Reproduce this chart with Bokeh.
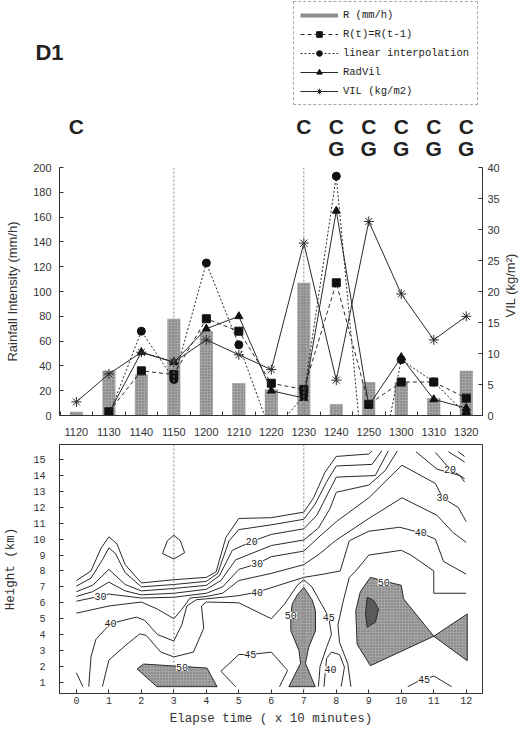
import numpy as np
from bokeh.plotting import figure
from bokeh.models import (Range1d, LinearAxis, FixedTicker, Span, LabelSet,
                          ColumnDataSource, Legend, LegendItem)
from bokeh.layouts import column, row
from bokeh.embed import file_html
from bokeh.resources import INLINE
from bokeh.core.properties import value

nan = float("nan")

# ---- time series (upper panel) ----
times = ["1120", "1130", "1140", "1150", "1200", "1210", "1220",
         "1230", "1240", "1250", "1300", "1310", "1320"]
rain = [3, 36, 33, 78, 68, 26, 21, 107, 9, 27, 27, 14, 36]            # R (mm/h)
persist = [nan, 3, 36, 33, 78, 68, 26, 21, 107, 9, 27, 27, 14]         # R(t)=R(t-1)
linear = [nan, 0, 68, 29, 123, 57, -15, 16, 193, -89, 45, 27, 1]       # linear interpolation
radvil = [nan, 2, 51, 43, 70, 80, 20, 14, 165, 8, 47, 13, 6]           # RadVil
vil = [2.2, 6.7, 10.2, 8.6, 12.2, 9.8, 7.4, 27.8, 5.7, 31.3, 19.6, 12.2, 16.0]  # VIL (kg/m2)

c_times = ["1120", "1230", "1240", "1250", "1300", "1310", "1320"]
g_times = ["1240", "1250", "1300", "1310", "1320"]
marked_times = ["1150", "1230"]

# ---- reflectivity contours (lower panel): (elapsed time, height km) ----
dbz10 = [[(0, 7.4), (0.45, 8.0), (0.75, 9.4), (1.0, 10.15), (1.25, 9.7), (1.5, 8.4), (2.0, 7.25),
          (3.0, 7.45), (4.0, 7.6), (4.3, 7.95), (4.6, 10.1), (5.0, 11.3), (6.0, 11.35), (7.0, 11.7),
          (7.3, 12.6), (7.65, 14.2), (8.0, 15.2), (9.0, 15.35), (9.1, 15.55)],
         [(3.0, 10.25), (3.2, 9.9), (3.33, 9.15), (3.0, 8.75), (2.65, 9.1), (2.8, 9.9), (3.0, 10.25)],
         [(11.75, 15.5), (11.95, 15.2)]]
dbz15 = [[(0, 7.05), (0.45, 7.55), (0.8, 8.7), (1.0, 9.45), (1.2, 9.1), (1.5, 7.9), (2.0, 7.0),
          (3.0, 7.15), (4.0, 7.35), (4.35, 7.85), (4.7, 9.9), (5.0, 10.6), (6.0, 10.9), (7.0, 11.25),
          (7.35, 12.2), (7.7, 13.6), (8.0, 14.6), (9.1, 14.7), (9.4, 15.55)],
         [(11.45, 15.5), (11.95, 14.85)]]
dbz20 = [[(0, 6.7), (0.5, 7.1), (1.0, 8.1), (1.5, 7.15), (2.0, 6.75), (3.0, 6.9), (4.0, 7.1),
          (4.4, 7.7), (4.8, 9.3), (5.4, 9.86), (6.0, 10.3), (7.0, 10.65), (7.4, 11.5), (7.75, 12.9),
          (8.0, 13.9), (9.2, 14.0), (9.6, 15.55)],
         [(11.05, 15.45), (11.5, 14.4), (11.95, 13.8)]]
dbz25 = [[(0, 6.4), (0.5, 6.7), (1.0, 7.3), (1.5, 6.75), (2.0, 6.5), (3.0, 6.6), (4.0, 6.85),
          (4.45, 7.4), (4.9, 8.7), (6.0, 9.6), (7.0, 9.95), (7.45, 10.7), (7.8, 11.9), (8.0, 12.95),
          (9.0, 13.4), (9.5, 14.3), (9.88, 15.55)],
         [(10.45, 15.5), (11.1, 14.4), (11.8, 14.0), (11.95, 13.6)]]
dbz30 = [[(0, 6.1), (0.74, 6.42), (1.0, 6.55), (2.0, 6.3), (3.0, 6.35), (4.0, 6.6), (4.5, 7.0),
          (5.0, 8.1), (5.56, 8.45), (6.0, 8.9), (7.0, 9.25), (7.5, 10.2), (8.0, 11.1), (9.0, 12.6),
          (10.02, 14.65), (11.05, 13.5), (11.27, 12.6), (11.75, 12.0), (12.0, 11.1)]]
dbz35 = [[(0, 5.35), (1.0, 5.8), (2.0, 6.05), (2.5, 5.6), (3.0, 5.0), (3.25, 5.6), (3.5, 6.3),
          (4.0, 6.4), (4.5, 6.6), (5.0, 7.4), (6.0, 7.85), (7.0, 8.4), (7.5, 9.1), (7.97, 9.9),
          (9.0, 11.3), (10.02, 12.6), (11.1, 11.5), (11.6, 10.4), (12.0, 9.8)]]
dbz40 = [[(0.38, 0.73), (0.45, 2.6), (0.6, 3.7), (1.05, 4.7), (1.85, 5.1), (2.1, 4.9), (2.5, 4.0),
          (3.0, 3.6), (3.25, 4.65), (3.4, 5.8), (3.7, 6.2), (4.0, 6.25), (5.0, 6.45), (5.56, 6.67),
          (6.0, 6.95), (7.0, 7.6), (7.6, 7.8), (8.12, 8.0), (8.4, 9.9), (9.0, 10.5), (9.95, 10.75),
          (10.6, 10.4), (11.05, 10.0), (11.3, 8.6), (12.0, 7.8)],
         [(0.0, 1.6), (0.2, 0.73)],
         [(7.62, 0.73), (7.7, 2.5), (7.85, 2.9), (8.1, 2.75), (8.25, 1.95), (8.15, 0.73)]]
dbz45 = [[(0.8, 0.73), (1.0, 2.4), (1.5, 3.3), (1.95, 4.05), (2.15, 3.95), (2.6, 2.9), (3.0, 2.6),
          (3.6, 2.9), (3.92, 4.4), (3.85, 5.8), (4.0, 6.05), (5.0, 6.0), (6.0, 5.0), (6.4, 5.9),
          (6.8, 7.1), (7.0, 7.45), (7.25, 7.0), (7.55, 5.9), (7.77, 5.1), (7.85, 4.0), (7.7, 3.2),
          (7.5, 2.0), (7.45, 0.73)],
         [(8.45, 0.73), (8.35, 2.2), (8.1, 3.5), (8.05, 4.6), (8.2, 6.0), (8.4, 7.6), (8.6, 8.0),
          (9.0, 9.0), (10.0, 9.3), (10.3, 9.0), (11.0, 8.0), (11.0, 6.6), (12.0, 6.6)],
         [(4.9, 0.73), (4.45, 1.7), (5.0, 2.75), (5.35, 2.75), (6.0, 2.9), (6.5, 1.75), (6.25, 0.73)],
         [(10.2, 0.73), (10.5, 1.05), (10.7, 1.15), (11.0, 1.4), (11.55, 0.73)]]
contour_lines = [dbz10, dbz15, dbz20, dbz25, dbz30, dbz35, dbz40, dbz45]

# cells of 50 dBZ and above, and the 55 dBZ core
dbz50_cells = [[(1.87, 1.84), (2.07, 2.15), (4.02, 1.9), (4.33, 0.73), (2.48, 0.73)],
               [(7.0, 6.98), (7.25, 6.2), (7.36, 5.5), (7.36, 4.25), (7.15, 3.2), (7.05, 2.2),
                (7.35, 0.73), (6.54, 0.73), (6.9, 2.2), (6.85, 3.0), (6.6, 4.25), (6.6, 5.2),
                (6.64, 5.9), (6.8, 6.5)],
               [(9.05, 7.6), (9.5, 7.35), (10.0, 7.1), (10.07, 6.25), (11.0, 3.9), (9.05, 2.05),
                (8.64, 3.4), (8.6, 5.5), (8.74, 6.7)],
               [(11.0, 3.9), (12.03, 5.3), (12.03, 2.36)]]
dbz55_core = [(8.95, 6.35), (9.15, 6.15), (9.3, 5.6), (9.2, 4.78), (8.95, 4.46), (8.9, 5.3)]

label_t = [0.74, 1.05, 5.4, 5.56, 5.56, 5.35, 3.25, 6.6, 7.77, 7.82, 9.46, 10.7, 11.5, 11.27, 10.6]
label_h = [6.42, 4.7, 9.86, 8.45, 6.67, 2.75, 1.95, 5.2, 5.1, 1.8, 7.3, 1.15, 14.4, 12.6, 10.4]
label_txt = ["30", "40", "20", "30", "40", "45", "50", "50", "45", "40", "50", "45", "20", "30", "40"]

INK = "#2a2a2a"
SANS = "Liberation Sans"
MONO = "Liberation Mono"
idx = {t: i for i, t in enumerate(times)}
x = np.arange(len(times))

# shared horizontal geometry (pixels); plot frames line up in the column
LEFT, FRAME_W, RIGHT = 59, 423, 43
X0, X1 = -0.52, 12.5

# ================= header: panel tag, storm type marks, legend =================
HEAD_H = 160
head = figure(frame_width=FRAME_W, frame_height=HEAD_H, min_border_left=LEFT,
              min_border_right=RIGHT, min_border_top=0, min_border_bottom=0, x_axis_type=None,
              x_range=Range1d(X0, X1), y_range=Range1d(0, HEAD_H),
              output_backend="svg", toolbar_location=None)
head.outline_line_color = None
head.grid.visible = False

# panel tag "D1" carried by the header's left axis
tag = head.yaxis[0]
tag.ticker = FixedTicker(ticks=[HEAD_H - 52])
tag.major_label_overrides = {HEAD_H - 52: "D1"}
tag.axis_line_color = None
tag.major_tick_line_color = None
tag.minor_tick_line_color = None
tag.major_label_standoff = -10
tag.major_label_text_font = SANS
tag.major_label_text_font_size = "22px"
tag.major_label_text_font_style = "bold"
tag.major_label_text_color = "#222222"

head.text(x=[idx[t] for t in c_times], y=[HEAD_H - 126] * len(c_times), text=["C"] * len(c_times),
          text_align="center", text_baseline="middle", text_font=value(SANS),
          text_font_size=value("21px"), text_font_style="bold", text_color="#222222")
head.text(x=[idx[t] for t in g_times], y=[HEAD_H - 148] * len(g_times), text=["G"] * len(g_times),
          text_align="center", text_baseline="middle", text_font=value(SANS),
          text_font_size=value("21px"), text_font_style="bold", text_color="#222222")

# legend keys, styled like the series of the upper panel
k_bar = head.line([nan], [nan], line_color="#8e8e8e", line_width=4)
k_per_l = head.line([nan], [nan], line_color=INK, line_width=1, line_dash="4 3")
k_per_m = head.scatter([nan], [nan], marker="square", size=8, color="#111111")
k_lin_l = head.line([nan], [nan], line_color=INK, line_width=1, line_dash="2 2")
k_lin_m = head.scatter([nan], [nan], marker="circle", size=8, color="#111111")
k_rad_l = head.line([nan], [nan], line_color=INK, line_width=1)
k_rad_m = head.scatter([nan], [nan], marker="triangle", size=8, color="#111111")
k_vil_l = head.line([nan], [nan], line_color=INK, line_width=1)
k_vil_m = head.scatter([nan], [nan], marker="asterisk", size=10, line_color=INK, line_width=1)

legend = Legend(items=[LegendItem(label="R (mm/h)", renderers=[k_bar]),
                       LegendItem(label="R(t)=R(t-1)", renderers=[k_per_l, k_per_m]),
                       LegendItem(label="linear interpolation", renderers=[k_lin_l, k_lin_m]),
                       LegendItem(label="RadVil", renderers=[k_rad_l, k_rad_m]),
                       LegendItem(label="VIL (kg/m2)", renderers=[k_vil_l, k_vil_m])],
                location=(293 - LEFT, HEAD_H - 105), orientation="vertical",
                glyph_width=38, glyph_height=14, label_height=14, label_width=128,
                label_standoff=5, spacing=5, padding=6, margin=0,
                label_text_font=MONO, label_text_font_size="10.5px", label_text_color="#222222",
                border_line_color="#555555", border_line_dash="2 2", border_line_width=1,
                background_fill_color="white", background_fill_alpha=1.0)
head.add_layout(legend)

# ================= upper panel =================
TOP_PAD, TOP_FRAME_H, TOP_BOTTOM = 7, 248, 25
STRIP_W = 25
top = figure(frame_width=FRAME_W, frame_height=TOP_FRAME_H, min_border_left=LEFT,
             min_border_right=RIGHT - STRIP_W, min_border_top=TOP_PAD, min_border_bottom=TOP_BOTTOM,
             x_range=Range1d(X0, X1), y_range=Range1d(0, 200),
             output_backend="svg", toolbar_location=None)
top.outline_line_color = None
top.grid.visible = False
top.extra_y_ranges = {"vil": Range1d(0, 40)}

top.vbar(x=x, top=rain, width=0.4, fill_color="#a4a4a4", line_color=None,
         hatch_pattern="dot", hatch_color="#6c6c6c", hatch_scale=3)

for t in marked_times:
    top.add_layout(Span(location=idx[t], dimension="height", line_color="#808080",
                        line_dash="2 2", line_width=1))

top.line(x, persist, line_color=INK, line_width=1, line_dash="4 3")
top.scatter(x, persist, marker="square", size=8, color="#111111")
top.line(x, linear, line_color=INK, line_width=1, line_dash="2 2")
top.scatter(x, linear, marker="circle", size=8, color="#111111")
top.line(x, radvil, line_color=INK, line_width=1)
top.scatter(x, radvil, marker="triangle", size=8, color="#111111")
top.line(x, vil, line_color=INK, line_width=1, y_range_name="vil")
top.scatter(x, vil, marker="asterisk", size=10, line_color=INK, line_width=1, y_range_name="vil")

yl = top.yaxis[0]
yl.ticker = FixedTicker(ticks=list(range(0, 201, 20)))
yl.axis_label = "Rainfall Intensity (mm/h)"
xb = top.xaxis[0]
xb.ticker = FixedTicker(ticks=list(x), minor_ticks=list(np.arange(-0.5, 12.6, 1.0)))
xb.major_label_overrides = {int(i): t for i, t in zip(x, times)}
xb.major_tick_line_color = None
xb.minor_tick_in = 4
xb.minor_tick_out = 0

yr = LinearAxis(y_range_name="vil", ticker=FixedTicker(ticks=list(range(0, 41, 5))))
top.add_layout(yr, "right")

for ax in (yl, yr, xb):
    ax.axis_line_color = "#333333"
    ax.major_label_text_font = SANS
    ax.major_label_text_font_size = "11px"
    ax.major_label_text_color = "#333333"
    ax.axis_label_text_font = SANS
    ax.axis_label_text_font_size = "13px"
    ax.axis_label_text_font_style = "normal"
    ax.axis_label_text_color = "#333333"
for ax in (yl, yr):
    ax.major_tick_in = 4
    ax.major_tick_out = 0
    ax.major_tick_line_color = "#333333"
    ax.minor_tick_line_color = None
yl.major_label_standoff = 8
yl.axis_label_standoff = 10
yr.major_label_standoff = 5
xb.major_label_standoff = 6
xb.minor_tick_line_color = "#333333"

# strip on the right carrying the VIL axis title, read bottom to top
TOP_H = TOP_PAD + TOP_FRAME_H + TOP_BOTTOM
strip = figure(width=STRIP_W, height=TOP_H, min_border=0, x_axis_type=None, y_axis_type=None,
               x_range=Range1d(0, STRIP_W), y_range=Range1d(0, 200),
               output_backend="svg", toolbar_location=None)
strip.outline_line_color = None
strip.grid.visible = False
strip.text(x=[8], y=[105], text=["VIL (kg/m²)"], angle=np.pi / 2,
           text_align="center", text_baseline="middle", text_font=value(SANS),
           text_font_size=value("13px"), text_color="#333333")

# ================= lower panel =================
bot = figure(frame_width=FRAME_W, frame_height=249, min_border_left=LEFT, min_border_right=RIGHT,
             min_border_top=4, min_border_bottom=36,
             x_range=Range1d(X0, X1), y_range=Range1d(0.3, 15.95),
             output_backend="svg", toolbar_location=None)
bot.grid.visible = False
bot.outline_line_color = "#333333"
bot.outline_line_width = 1

bot.patches([[p[0] for p in c] for c in dbz50_cells], [[p[1] for p in c] for c in dbz50_cells],
            fill_color="#a4a4a4", hatch_pattern="dot", hatch_color="#6c6c6c", hatch_scale=3,
            line_color=INK, line_width=1)
bot.patch([p[0] for p in dbz55_core], [p[1] for p in dbz55_core],
          fill_color="#5a5a5a", line_color=INK, line_width=1)

xs, ys = [], []
for level in contour_lines:
    for seg in level:
        xs.append([p[0] for p in seg])
        ys.append([p[1] for p in seg])
bot.multi_line(xs, ys, line_color=INK, line_width=1)

for t in marked_times:
    bot.add_layout(Span(location=idx[t], dimension="height", line_color="#808080",
                        line_dash="2 2", line_width=1))

lab_src = ColumnDataSource(dict(t=label_t, h=label_h, txt=label_txt))
bot.add_layout(LabelSet(x="t", y="h", text="txt", source=lab_src, text_align="center",
                        text_baseline="middle", text_font=value(MONO),
                        text_font_size=value("10px"), text_color="#222222",
                        background_fill_color="white"))

bx = bot.xaxis[0]
bx.ticker = FixedTicker(ticks=list(range(0, 13)))
bx.axis_label = "Elapse time ( x 10 minutes)"
by = bot.yaxis[0]
by.ticker = FixedTicker(ticks=list(range(1, 16)))
by.axis_label = "Height (km)"
for ax in (bx, by):
    ax.axis_line_color = "#333333"
    ax.major_tick_in = 4
    ax.major_tick_out = 0
    ax.major_tick_line_color = "#333333"
    ax.minor_tick_line_color = None
    ax.major_label_text_font = MONO
    ax.major_label_text_font_size = "10px"
    ax.major_label_text_color = "#333333"
    ax.axis_label_text_font = MONO
    ax.axis_label_text_font_size = "12.5px"
    ax.axis_label_text_font_style = "normal"
    ax.axis_label_text_color = "#333333"
bx.major_label_standoff = 3
bx.axis_label_standoff = 5
by.major_label_standoff = 14
by.axis_label_standoff = 12

layout = column(head, row(top, strip), bot)
open("out.html", "w").write(file_html(layout, INLINE))
